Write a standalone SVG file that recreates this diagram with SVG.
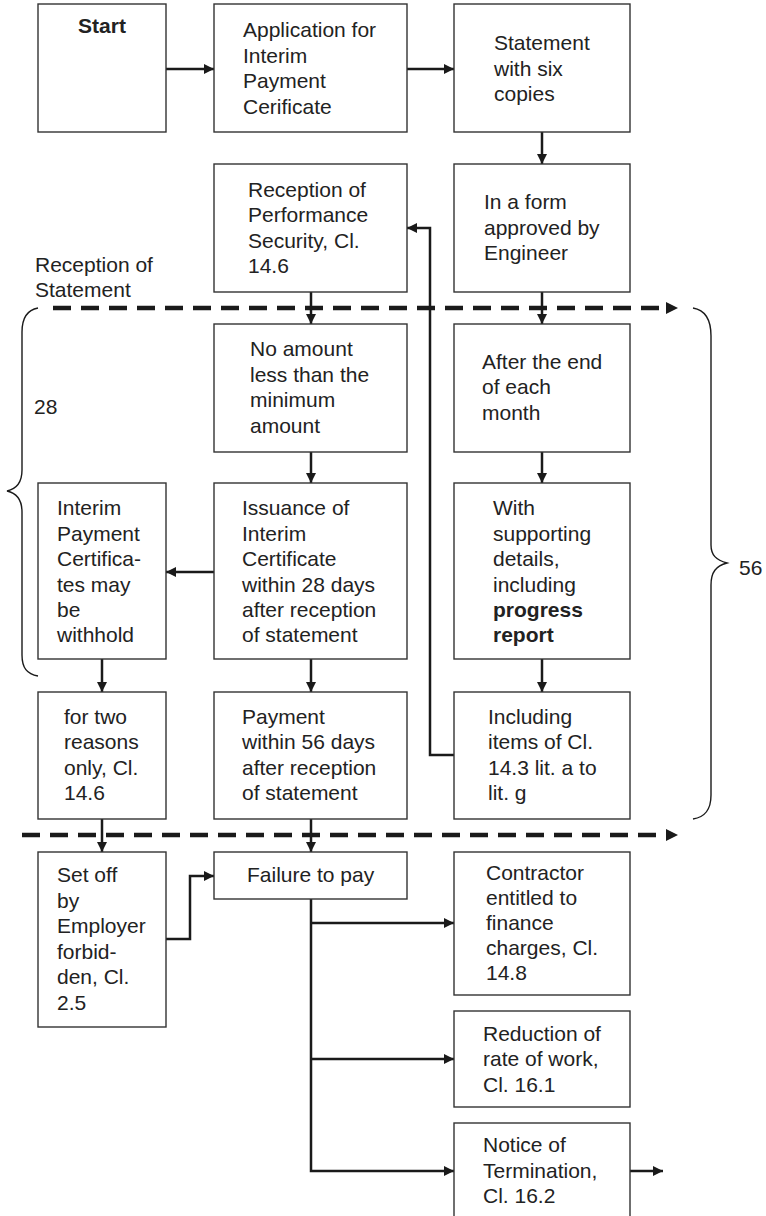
<svg xmlns="http://www.w3.org/2000/svg" width="766" height="1216" viewBox="0 0 766 1216">
<style>
.box{fill:#fff;stroke:#333;stroke-width:1.4}
.t{font-family:"Liberation Sans",Arial,sans-serif;font-size:21px;fill:#222}
.b{font-weight:bold}
.c{fill:none;stroke:#1a1a1a;stroke-width:2.5}
.d{fill:none;stroke:#1a1a1a;stroke-width:4.5;stroke-dasharray:18 10}
.br{fill:none;stroke:#1a1a1a;stroke-width:1.4}
</style>
<defs>
<marker id="ah" viewBox="0 0 10 10" refX="10" refY="5" markerWidth="11" markerHeight="10" markerUnits="userSpaceOnUse" orient="auto"><path d="M0,0 L10,5 L0,10 z" fill="#1a1a1a"/></marker>
<marker id="dh" viewBox="0 0 10 10" refX="10" refY="5" markerWidth="12" markerHeight="12" markerUnits="userSpaceOnUse" orient="auto"><path d="M0,0 L10,5 L0,10 z" fill="#1a1a1a"/></marker>
</defs>
<rect width="766" height="1216" fill="#fff"/>

<g id="connectors">
<path class="d" d="M53,308 H670" />
<path class="d" d="M22,835 H670" />
<path d="M666,302 L678,308 L666,314 z" fill="#1a1a1a"/>
<path d="M666,829 L678,835 L666,841 z" fill="#1a1a1a"/>
<path class="c" d="M166,69 H214" marker-end="url(#ah)"/>
<path class="c" d="M407,69 H454" marker-end="url(#ah)"/>
<path class="c" d="M542,132 V164" marker-end="url(#ah)"/>
<path class="c" d="M542,292 V324" marker-end="url(#ah)"/>
<path class="c" d="M542,452 V483" marker-end="url(#ah)"/>
<path class="c" d="M542,659 V692" marker-end="url(#ah)"/>
<path class="c" d="M311,292 V324" marker-end="url(#ah)"/>
<path class="c" d="M311,452 V483" marker-end="url(#ah)"/>
<path class="c" d="M214,572 H166" marker-end="url(#ah)"/>
<path class="c" d="M311,659 V692" marker-end="url(#ah)"/>
<path class="c" d="M102,659 V692" marker-end="url(#ah)"/>
<path class="c" d="M102,819 V852" marker-end="url(#ah)"/>
<path class="c" d="M311,819 V852" marker-end="url(#ah)"/>
<path class="c" d="M454,755 H430 V228 H407" marker-end="url(#ah)"/>
<path class="c" d="M166,939 H190 V876 H214" marker-end="url(#ah)"/>
<path class="c" d="M311,899 V1171 H454" marker-end="url(#ah)"/>
<path class="c" d="M311,923 H454" marker-end="url(#ah)"/>
<path class="c" d="M311,1059 H454" marker-end="url(#ah)"/>
<path class="c" d="M630,1171 H663" marker-end="url(#ah)"/>
</g>

<g id="braces">
<path class="br" d="M38,308 C27,310 22,318 22,332 V470 C22,482 16,489 7,491 C16,493 22,500 22,512 V655 C22,668 27,674 38,676"/>
<path class="br" d="M693,308 C705,310 711,320 711,336 V545 C711,555 716,560 727,563 C716,566 711,572 711,585 V795 C711,810 705,817 693,819"/>
<text class="t" x="34" y="414">28</text>
<text class="t" x="739" y="575">56</text>
</g>

<g id="label-reception-statement">
<text class="t" x="35" y="272">Reception of</text>
<text class="t" x="35" y="297">Statement</text>
</g>

<g id="start">
<rect class="box" x="38" y="4" width="128" height="128"/>
<text class="t b" x="102" y="33" text-anchor="middle">Start</text>
</g>

<g id="application">
<rect class="box" x="214" y="4" width="193" height="128"/>
<text class="t" x="243" y="37">Application for</text>
<text class="t" x="243" y="62.5">Interim</text>
<text class="t" x="243" y="88">Payment</text>
<text class="t" x="243" y="113.5">Cerificate</text>
</g>

<g id="statement">
<rect class="box" x="454" y="4" width="176" height="128"/>
<text class="t" x="494" y="50">Statement</text>
<text class="t" x="494" y="75.5">with six</text>
<text class="t" x="494" y="100.5">copies</text>
</g>

<g id="performance-security">
<rect class="box" x="214" y="164" width="193" height="128"/>
<text class="t" x="248" y="197">Reception of</text>
<text class="t" x="248" y="222">Performance</text>
<text class="t" x="248" y="247.5">Security, Cl.</text>
<text class="t" x="248" y="273">14.6</text>
</g>

<g id="form-approved">
<rect class="box" x="454" y="164" width="176" height="128"/>
<text class="t" x="484" y="209">In a form</text>
<text class="t" x="484" y="234.5">approved by</text>
<text class="t" x="484" y="260">Engineer</text>
</g>

<g id="no-amount">
<rect class="box" x="214" y="324" width="193" height="128"/>
<text class="t" x="250" y="356">No amount</text>
<text class="t" x="250" y="381.5">less than the</text>
<text class="t" x="250" y="407">minimum</text>
<text class="t" x="250" y="432.5">amount</text>
</g>

<g id="end-of-month">
<rect class="box" x="454" y="324" width="176" height="128"/>
<text class="t" x="482" y="368.5">After the end</text>
<text class="t" x="482" y="394">of each</text>
<text class="t" x="482" y="419.5">month</text>
</g>

<g id="withhold">
<rect class="box" x="38" y="483" width="128" height="176"/>
<text class="t" x="57" y="515">Interim</text>
<text class="t" x="57" y="540.5">Payment</text>
<text class="t" x="57" y="566">Certifica-</text>
<text class="t" x="57" y="591.5">tes may</text>
<text class="t" x="57" y="617">be</text>
<text class="t" x="57" y="642">withhold</text>
</g>

<g id="issuance">
<rect class="box" x="214" y="483" width="193" height="176"/>
<text class="t" x="242" y="515">Issuance of</text>
<text class="t" x="242" y="540.5">Interim</text>
<text class="t" x="242" y="566">Certificate</text>
<text class="t" x="242" y="591.5">within 28 days</text>
<text class="t" x="242" y="617">after reception</text>
<text class="t" x="242" y="642">of statement</text>
</g>

<g id="supporting-details">
<rect class="box" x="454" y="483" width="176" height="176"/>
<text class="t" x="493" y="515">With</text>
<text class="t" x="493" y="540.5">supporting</text>
<text class="t" x="493" y="566">details,</text>
<text class="t" x="493" y="591.5">including</text>
<text class="t b" x="493" y="617">progress</text>
<text class="t b" x="493" y="642">report</text>
</g>

<g id="two-reasons">
<rect class="box" x="38" y="692" width="128" height="127"/>
<text class="t" x="64" y="723.5">for two</text>
<text class="t" x="64" y="749">reasons</text>
<text class="t" x="64" y="774.5">only, Cl.</text>
<text class="t" x="64" y="800">14.6</text>
</g>

<g id="payment">
<rect class="box" x="214" y="692" width="193" height="127"/>
<text class="t" x="242" y="723.5">Payment</text>
<text class="t" x="242" y="749">within 56 days</text>
<text class="t" x="242" y="774.5">after reception</text>
<text class="t" x="242" y="800">of statement</text>
</g>

<g id="items">
<rect class="box" x="454" y="692" width="176" height="127"/>
<text class="t" x="488" y="723.5">Including</text>
<text class="t" x="488" y="749">items of Cl.</text>
<text class="t" x="488" y="774.5">14.3 lit. a to</text>
<text class="t" x="488" y="800">lit. g</text>
</g>

<g id="set-off">
<rect class="box" x="38" y="852" width="128" height="175"/>
<text class="t" x="57" y="882">Set off</text>
<text class="t" x="57" y="907.5">by</text>
<text class="t" x="57" y="933">Employer</text>
<text class="t" x="57" y="958.5">forbid-</text>
<text class="t" x="57" y="984">den, Cl.</text>
<text class="t" x="57" y="1009.5">2.5</text>
</g>

<g id="failure">
<rect class="box" x="214" y="852" width="193" height="47"/>
<text class="t" x="247" y="882">Failure to pay</text>
</g>

<g id="finance-charges">
<rect class="box" x="454" y="852" width="176" height="143"/>
<text class="t" x="486" y="879.5">Contractor</text>
<text class="t" x="486" y="904.5">entitled to</text>
<text class="t" x="486" y="929.5">finance</text>
<text class="t" x="486" y="955">charges, Cl.</text>
<text class="t" x="486" y="980">14.8</text>
</g>

<g id="reduction">
<rect class="box" x="454" y="1011" width="176" height="96"/>
<text class="t" x="483" y="1041">Reduction of</text>
<text class="t" x="483" y="1066">rate of work,</text>
<text class="t" x="483" y="1092">Cl. 16.1</text>
</g>

<g id="termination">
<rect class="box" x="454" y="1123" width="176" height="100"/>
<text class="t" x="483" y="1152">Notice of</text>
<text class="t" x="483" y="1178">Termination,</text>
<text class="t" x="483" y="1203">Cl. 16.2</text>
</g>
</svg>
